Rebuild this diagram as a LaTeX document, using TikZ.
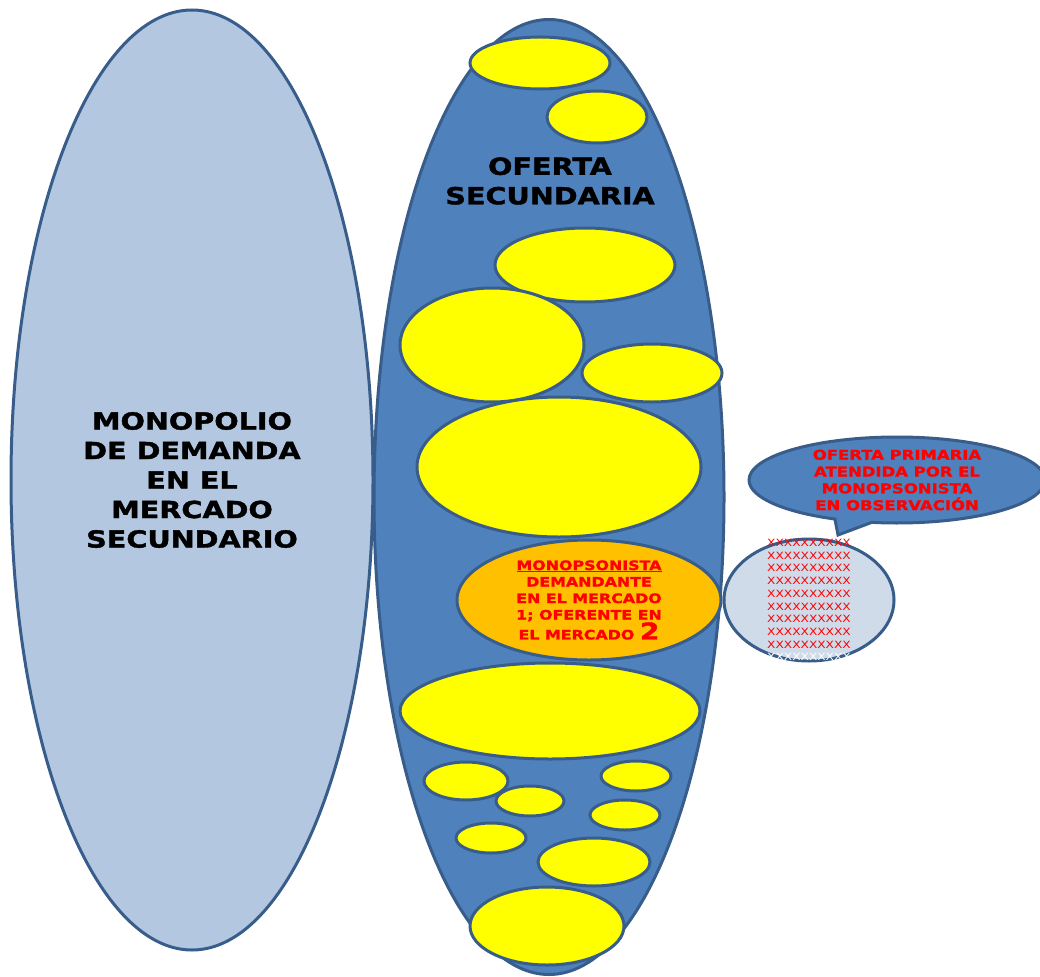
\documentclass[tikz,border=0pt]{standalone}
\usepackage{fontspec}
\setmainfont{DejaVu Sans}
\newfontfamily\widefont[FakeStretch=1.22, BoldFeatures={FakeBold=1.6}]{DejaVu Sans}
\usepackage{xcolor}
\usetikzlibrary{shapes,positioning}

\definecolor{paleblue}{HTML}{B3C7E1}
\definecolor{midblue}{HTML}{4F81BD}
\definecolor{edgeblue}{HTML}{385D8A}
\definecolor{mistblue}{HTML}{D0DBEA}
\definecolor{amber}{HTML}{FFC000}
\definecolor{lemon}{HTML}{FFFF00}

\begin{document}
\begin{tikzpicture}[
    x=1pt, y=-1pt,
    blob/.style={ellipse, draw=edgeblue, line width=3pt, inner sep=0pt, align=center},
    seed/.style={blob, fill=lemon},
    bigtext/.style={font=\widefont\bfseries\fontsize{23.5}{29.5}\selectfont, align=center},
    redtext/.style={text=red, font=\widefont\bfseries\fontsize{13}{16.5}\selectfont, align=center}
]
    \useasboundingbox (0,0) rectangle (1040,976);

    % demand side
    \node[blob, fill=paleblue, minimum width=362pt, minimum height=940pt, bigtext] (demanda) at (192,480)
        {MONOPOLIO\\DE DEMANDA\\EN EL\\MERCADO\\SECUNDARIO};

    % supply side
    \node[blob, fill=midblue, minimum width=350pt, minimum height=955pt] (oferta) at (549,497) {};
    \node[bigtext] (ofertalabel) at (550,181) {OFERTA\\SECUNDARIA};

    \node[seed, minimum width=140pt, minimum height=52pt] (s1) at (540,63) {};
    \node[seed, minimum width=100pt, minimum height=52pt] (s2) at (597,117) {};
    \node[seed, minimum width=180pt, minimum height=74pt] (s3) at (585,265) {};
    \node[seed, minimum width=184pt, minimum height=114pt] (s4) at (492,345) {};
    \node[seed, minimum width=140pt, minimum height=58pt] (s5) at (652,373) {};
    \node[seed, minimum width=284pt, minimum height=140pt] (s6) at (559,467) {};
    \node[seed, minimum width=300pt, minimum height=96pt] (s8) at (550,711) {};
    \node[seed, minimum width=84pt, minimum height=38pt] (s9) at (466,781) {};
    \node[seed, minimum width=70pt, minimum height=30pt] (s10) at (636,776) {};
    \node[seed, minimum width=68pt, minimum height=30pt] (s11) at (530,801) {};
    \node[seed, minimum width=70pt, minimum height=30pt] (s12) at (625,815) {};
    \node[seed, minimum width=70pt, minimum height=30pt] (s13) at (491,838) {};
    \node[seed, minimum width=112pt, minimum height=48pt] (s14) at (594,862) {};
    \node[seed, minimum width=154pt, minimum height=78pt] (s15) at (547,926) {};

    \node[blob, fill=amber, minimum width=264pt, minimum height=120pt, redtext] (monopsonista) at (589,600)
        {\underline{MONOPSONISTA}\\DEMANDANTE\\EN EL MERCADO\\1; OFERENTE EN\\EL MERCADO {\fontsize{23}{23}\selectfont 2}};

    % primary supply
    \node[blob, fill=mistblue, minimum width=170pt, minimum height=122pt] (primaria) at (809,600) {};
    \node[text=red, align=center, font=\widefont\fontsize{10}{12.7}\selectfont] (crosses) at (809,600)
        {XXXXXXXXXX\\XXXXXXXXXX\\XXXXXXXXXX\\XXXXXXXXXX\\XXXXXXXXXX\\XXXXXXXXXX\\XXXXXXXXXX\\XXXXXXXXXX\\XXXXXXXXXX\\\textcolor{white}{XXXXXXXXXX}};

    \node[ellipse callout, draw=edgeblue, fill=midblue, line width=3pt, inner sep=0pt,
          minimum width=296pt, minimum height=86pt, callout absolute pointer={(838,535)},
          redtext, font=\widefont\bfseries\fontsize{13.5}{16.8}\selectfont] (nota) at (897,480)
        {OFERTA PRIMARIA\\ATENDIDA POR EL\\MONOPSONISTA\\EN OBSERVACIÓN};
\end{tikzpicture}
\end{document}
